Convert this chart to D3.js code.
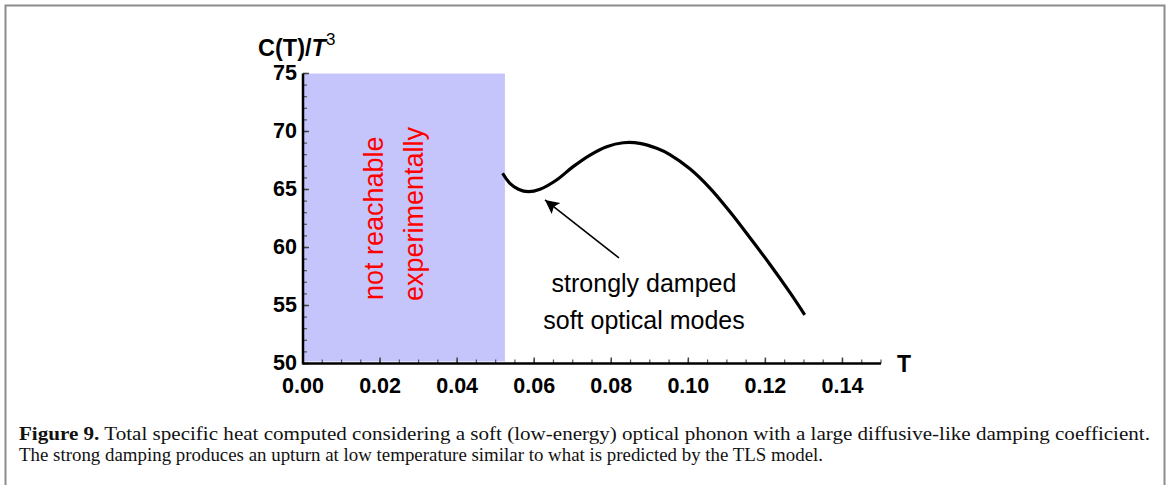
<!DOCTYPE html>
<html><head><meta charset="utf-8">
<script src="https://cdn.jsdelivr.net/npm/d3@7"></script>
<style>html,body{margin:0;padding:0;background:#fff;}svg{display:block;}</style>
</head><body>
<script>
// ---- data ----
const T = [0.0518,0.0537,0.0559,0.0585,0.0615,0.0658,0.0701,0.0745,0.0788,0.0831,0.0874,0.0918,0.0952,0.1004,0.1056,0.1107,0.1159,0.1211,0.1263,0.1302];
const C = [66.40,65.53,65.02,64.81,65.02,65.82,66.97,67.97,68.69,69.03,68.98,68.55,68.01,66.78,65.12,63.12,60.88,58.58,56.15,54.20];
const xTicks = [0.00,0.02,0.04,0.06,0.08,0.10,0.12,0.14];
const yTicks = [50,55,60,65,70,75];
const shadeRange = [0, 0.0524];
const shadeLabels = ["not reachable","experimentally"];
const annotLines = ["strongly damped","soft optical modes"];
const arrowFrom = [0.0820, 59.1];
const arrowTo = [0.0628, 64.1];
const captionBold = "Figure 9.";
const caption1 = " Total specific heat computed considering a soft (low-energy) optical phonon with a large diffusive-like damping coefficient.";
const caption2 = "The strong damping produces an upturn at low temperature similar to what is predicted by the TLS model.";

const W = 1170, H = 485;
const svg = d3.select("body").append("svg").attr("width", W).attr("height", H);

// frame
svg.append("path").attr("d","M5.5,490 V5.5 H1164.5 V490")
  .attr("fill","none").attr("stroke","#8c8c8c").attr("stroke-width",2);

const x = d3.scaleLinear().domain([0,0.15]).range([303,881]);
const y = d3.scaleLinear().domain([50,75]).range([363.5,73.5]);

// shaded region
svg.append("rect")
  .attr("x", x(shadeRange[0])).attr("y", y(75))
  .attr("width", x(shadeRange[1]) - x(shadeRange[0]))
  .attr("height", y(50) - y(75) - 2)
  .attr("fill", "#c5c5fb");

// rotated red labels
const rl = svg.append("g");
[[383,300],[423,301]].forEach((p,i)=>{
  rl.append("text").attr("transform",`translate(${p[0]},${p[1]}) rotate(-90)`)
    .attr("font-family","Liberation Sans, Arial, sans-serif").attr("font-size",27)
    .attr("fill","#ff0000").text(shadeLabels[i]);
});

// ticks
const gx = svg.append("g");
const xMinor = d3.range(0, 0.1501, 0.005);
gx.selectAll("line.m").data(xMinor).join("line")
  .attr("x1",d=>x(d)).attr("x2",d=>x(d)).attr("y1",y(50)).attr("y2",y(50)-4)
  .attr("stroke","#555").attr("stroke-width",1.2);
gx.selectAll("line.M").data(xTicks).join("line")
  .attr("x1",d=>x(d)).attr("x2",d=>x(d)).attr("y1",y(50)).attr("y2",y(50)-6)
  .attr("stroke","#444").attr("stroke-width",1.5);
const gy = svg.append("g");
const yMinor = d3.range(50, 75.01, 1);
gy.selectAll("line.m").data(yMinor).join("line")
  .attr("x1",x(0)).attr("x2",x(0)+4).attr("y1",d=>y(d)).attr("y2",d=>y(d))
  .attr("stroke","#555").attr("stroke-width",1.2);
gy.selectAll("line.M").data(yTicks).join("line")
  .attr("x1",x(0)).attr("x2",x(0)+6).attr("y1",d=>y(d)).attr("y2",d=>y(d))
  .attr("stroke","#444").attr("stroke-width",1.5);

// axis lines
svg.append("line").attr("x1",x(0)).attr("x2",x(0.15)).attr("y1",y(50)).attr("y2",y(50))
  .attr("stroke","#000").attr("stroke-width",2.5);
svg.append("line").attr("x1",x(0)).attr("x2",x(0)).attr("y1",y(50)+1).attr("y2",y(75))
  .attr("stroke","#000").attr("stroke-width",2.5);

// tick labels
const lf = "Liberation Sans, Arial, sans-serif";
svg.append("g").selectAll("text").data(xTicks).join("text")
  .attr("x",d=>x(d)).attr("y",393).attr("text-anchor","middle")
  .attr("font-family",lf).attr("font-weight","bold").attr("font-size",21.5)
  .text(d=>d3.format(".2f")(d));
svg.append("g").selectAll("text").data(yTicks).join("text")
  .attr("x",297).attr("y",d=>y(d)+6.5).attr("text-anchor","end")
  .attr("font-family",lf).attr("font-weight","bold").attr("font-size",21.5)
  .text(d=>d);

// axis titles
const yt = svg.append("text").attr("x",258).attr("y",56)
  .attr("font-family",lf).attr("font-weight","bold").attr("font-size",23.5);
yt.append("tspan").text("C(T)/");
yt.append("tspan").attr("font-style","italic").text("T");
yt.append("tspan").attr("dy",-11).attr("font-size",17).attr("font-weight","normal").text("3");
svg.append("text").attr("x",904).attr("y",372).attr("text-anchor","middle")
  .attr("font-family",lf).attr("font-weight","bold").attr("font-size",23).text("T");

// curve
const pts = T.map((t,i)=>[t,C[i]]);
svg.append("path").datum(pts)
  .attr("d", d3.line().x(d=>x(d[0])).y(d=>y(d[1])).curve(d3.curveCatmullRom.alpha(0.5)))
  .attr("fill","none").attr("stroke","#000").attr("stroke-width",3.2).attr("stroke-linecap","butt");

// arrow
const defs = svg.append("defs");
defs.append("marker").attr("id","ah").attr("viewBox","0 0 10 10").attr("refX",10).attr("refY",5)
  .attr("markerWidth",20).attr("markerHeight",14).attr("markerUnits","userSpaceOnUse")
  .attr("orient","auto")
  .append("path").attr("d","M0,0 L10,5 L0,10 L2,5 Z").attr("fill","#000");
svg.append("line")
  .attr("x1",x(arrowFrom[0])).attr("y1",y(arrowFrom[1]))
  .attr("x2",x(arrowTo[0])).attr("y2",y(arrowTo[1]))
  .attr("stroke","#000").attr("stroke-width",1.6).attr("marker-end","url(#ah)");

// annotation text
annotLines.forEach((s,i)=>{
  svg.append("text").attr("x",644).attr("y",292 + i*36.5).attr("text-anchor","middle")
    .attr("font-family",lf).attr("font-size",25).attr("fill","#000").text(s);
});

// caption
const cf = "Liberation Serif, Times New Roman, serif";
const c1 = svg.append("text").attr("x",19).attr("y",440)
  .attr("font-family",cf).attr("font-size",18.5).attr("fill","#111")
  .attr("textLength",1131).attr("lengthAdjust","spacingAndGlyphs");
c1.append("tspan").attr("font-weight","bold").text(captionBold);
c1.append("tspan").text(caption1);
svg.append("text").attr("x",19).attr("y",461)
  .attr("font-family",cf).attr("font-size",18.5).attr("fill","#111")
  .attr("textLength",804).attr("lengthAdjust","spacingAndGlyphs").text(caption2);
</script>
</body></html>
